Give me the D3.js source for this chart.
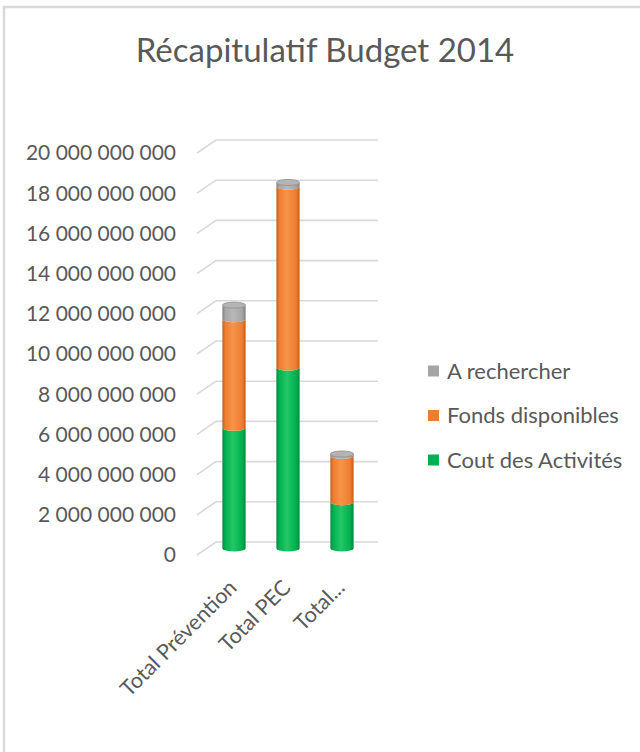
<!DOCTYPE html>
<html><head><meta charset="utf-8">
<script src="https://cdn.jsdelivr.net/npm/d3@7"></script>
<style>html,body{margin:0;padding:0;background:#fff;}svg{display:block;}</style>
</head><body>
<script>
const categories = ["Total Prévention", "Total PEC", "Total..."];
const seriesNames = ["Cout des Activités", "Fonds disponibles", "A rechercher"];
const coutActivites = [6.0e9, 9.0e9, 2.3e9];
const fondsDisponibles = [5.4e9, 9.0e9, 2.3e9];
const aRechercher = [0.7e9, 0.2e9, 0.1e9];
const yTicks = [0, 2e9, 4e9, 6e9, 8e9, 10e9, 12e9, 14e9, 16e9, 18e9, 20e9];
const title = "Récapitulatif Budget 2014";

const W = 640, H = 752;
const font = "Lato, 'Open Sans', sans-serif";
const txt = "#595959";
const svg = d3.select("body").append("svg").attr("width", W).attr("height", H);
svg.append("rect").attr("width", W).attr("height", H).attr("fill", "#fff");
// outer border
svg.append("path").attr("d", `M4,${H} L4,7 L${W},7`).attr("fill", "none").attr("stroke", "#d9d9d9").attr("stroke-width", 2.5);

const defs = svg.append("defs");
const colors = {
  "Cout des Activités": ["#00873c", "#00b050", "#22c865"],
  "Fonds disponibles": ["#c45d17", "#ed7d31", "#f79448"],
  "A rechercher": ["#7e7e7e", "#a5a5a5", "#b8b8b8"]
};
const legendColors = {"Cout des Activités": "#00b050", "Fonds disponibles": "#ed7d31", "A rechercher": "#a5a5a5"};
seriesNames.forEach((s, i) => {
  const g = defs.append("linearGradient").attr("id", "g" + i).attr("x1", 0).attr("x2", 1).attr("y1", 0).attr("y2", 0);
  const c = colors[s];
  g.append("stop").attr("offset", 0).attr("stop-color", c[0]);
  g.append("stop").attr("offset", 0.12).attr("stop-color", c[1]);
  g.append("stop").attr("offset", 0.45).attr("stop-color", c[2]);
  g.append("stop").attr("offset", 0.85).attr("stop-color", c[1]);
  g.append("stop").attr("offset", 1).attr("stop-color", c[0]);
});

// scales: back wall, mid (bars), front (labels)
const yBack = d3.scaleLinear().domain([0, 20e9]).range([542, 140]);
const yMid = d3.scaleLinear().domain([0, 20e9]).range([548.5, 146.3]);
const yFront = d3.scaleLinear().domain([0, 20e9]).range([555, 153]);
const x = d3.scaleBand().domain(categories).range([207, 369]);

// title
svg.append("text").attr("x", 325).attr("y", 62).attr("text-anchor", "middle")
  .attr("font-family", font).attr("font-size", 33).attr("fill", txt).text(title);

// gridlines
const grid = svg.append("g").attr("fill", "none").attr("stroke", "#d9d9d9").attr("stroke-width", 1.6);
yTicks.forEach(t => {
  grid.append("path").attr("d", `M197,${yFront(t)} L216,${yBack(t)} L378,${yBack(t)}`);
});

// y tick labels
const fmt = v => String(Math.round(v)).replace(/\B(?=(\d{3})+(?!\d))/g, " ");
svg.append("g").selectAll("text").data(yTicks).join("text")
  .attr("x", 176).attr("y", d => yFront(d)).attr("dy", "0.35em").attr("text-anchor", "end")
  .attr("font-family", font).attr("font-size", 21).attr("fill", txt).text(fmt);

// stacked cylinders
const table = categories.map((c, i) => ({cat: c, "Cout des Activités": coutActivites[i], "Fonds disponibles": fondsDisponibles[i], "A rechercher": aRechercher[i]}));
const stack = d3.stack().keys(seriesNames)(table);
const bw = x.step() * 0.43, ry = 3;
const bars = svg.append("g");
stack.forEach((layer, si) => {
  layer.forEach((d, ci) => {
    const cx = x(categories[ci]) + x.bandwidth() / 2;
    const L = cx - bw / 2, R = cx + bw / 2, rx = bw / 2;
    const yb = yMid(d[0]), yt = yMid(d[1]);
    bars.append("path")
      .attr("d", `M${L},${yt} L${L},${yb} A${rx},${ry} 0 0 0 ${R},${yb} L${R},${yt} A${rx},${ry} 0 0 1 ${L},${yt} Z`)
      .attr("fill", `url(#g${si})`);
    if (si === stack.length - 1) {
      bars.append("ellipse").attr("cx", cx).attr("cy", yt).attr("rx", rx).attr("ry", ry)
        .attr("fill", "#b4b4b4").attr("stroke", "#8c8c8c").attr("stroke-width", 0.8);
    }
  });
});

// category labels
svg.append("g").selectAll("text").data(categories).join("text")
  .attr("transform", d => `translate(${x(d) + x.bandwidth() / 2 + 4},${589}) rotate(-45)`)
  .attr("text-anchor", "end").attr("font-family", font).attr("font-size", 21.5).attr("fill", txt).text(d => d);

// legend
const legendOrder = ["A rechercher", "Fonds disponibles", "Cout des Activités"];
const lg = svg.append("g");
legendOrder.forEach((s, i) => {
  const cy = 371 + i * 44.5;
  lg.append("rect").attr("x", 428).attr("y", cy - 5.5).attr("width", 11).attr("height", 11).attr("fill", legendColors[s]);
  lg.append("text").attr("x", 447).attr("y", cy).attr("dy", "0.35em").attr("font-family", font)
    .attr("font-size", 22).attr("fill", txt).text(s);
});
</script>
</body></html>
